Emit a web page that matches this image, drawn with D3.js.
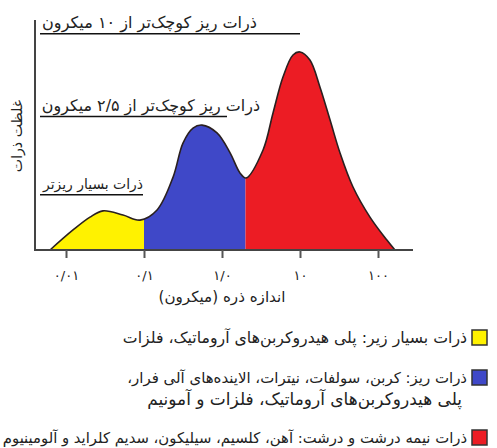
<!DOCTYPE html>
<html lang="fa">
<head>
<meta charset="utf-8">
<script src="https://cdn.jsdelivr.net/npm/d3@7/dist/d3.min.js"></script>
<style>
  html, body { margin: 0; padding: 0; background: #fff; }
  svg { display: block; }
  text { font-family: "DejaVu Sans", sans-serif; fill: #222; }
</style>
</head>
<body>
<svg id="chart" width="497" height="448"></svg>
<script>
// Particle size (µm) and relative mass concentration along the distribution curve
const sizes = [0.00624, 0.0123, 0.0203, 0.0298, 0.0538, 0.0889, 0.147, 0.236, 0.316, 0.425, 0.555,
               0.863, 1.27, 1.70, 2.03, 3.36, 4.51, 6.05, 8.13, 10, 13.4, 18.0, 24.3, 32.6, 47.8, 78.9, 130, 165];
const concentration = [0, 8.7, 14.3, 17.0, 15.2, 13.0, 17.4, 31.7, 46.5, 53.0, 54.3,
                       50.9, 42.2, 33.5, 31.3, 43.5, 59.6, 75.2, 84.8, 86.1, 82.6, 70.9, 56.5, 42.2, 27.4, 14.3, 4.3, 0];

// Size-class boundaries (µm) and their fill colours
const classBreaks = [0.1, 2];
const classColors = ["#fff200", "#3f48c8", "#ec1c24"];

// Axis ticks
const tickValues = [0.01, 0.1, 1, 10, 100];
const tickLabels = ["۰/۰۱", "۰/۱", "۱/۰", "۱۰", "۱۰۰"];

// Reference size thresholds drawn as labelled rules
const thresholdLabels = ["ذرات ریز کوچک‌تر از ۱۰ میکرون", "ذرات ریز کوچک‌تر از ۲/۵ میکرون", "ذرات بسیار ریزتر"];
const thresholdLevels = [94, 58, 24];

// Legend entries
const legendLines = [
  ["ذرات بسیار زیر: پلی هیدروکربن‌های آروماتیک، فلزات"],
  ["ذرات ریز: کربن، سولفات، نیترات، الاینده‌های آلی فرار،", "پلی هیدروکربن‌های آروماتیک، فلزات و آمونیم"],
  ["ذرات نیمه درشت و درشت: آهن، کلسیم، سیلیکون، سدیم کلراید و آلومینیوم"]
];

const xTitle = "اندازه ذره (میکرون)";
const yTitle = "غلظت ذرات";

const svg = d3.select("#chart");

// Scale a text's font size so that its drawn box spans the given width
function fitWidth(sel, base, width) {
  let size = base;
  sel.style("font-size", size + "px");
  for (let k = 0; k < 3; k++) {
    const w = sel.node().getBBox().width;
    if (!(w > 0)) break;
    size = size * width / w;
    sel.style("font-size", size + "px");
  }
  return size;
}

const x = d3.scaleLog().domain([0.01, 100]).range([66, 378]);
const y = d3.scaleLinear().domain([0, 100]).range([250, 20]);
const axisLeft = 35, axisRight = 413;

const pts = sizes.map((s, i) => ({ s, v: concentration[i] }));

// Clip regions per size class
const edges = [x.invert(axisLeft), ...classBreaks, x.invert(axisRight)];
const defs = svg.append("defs");
classColors.forEach((c, i) => {
  defs.append("clipPath").attr("id", "cls" + i)
    .append("rect")
    .attr("x", x(edges[i])).attr("y", 0)
    .attr("width", x(edges[i + 1]) - x(edges[i])).attr("height", y(0));
});

const area = d3.area()
  .x(d => x(d.s)).y0(y(0)).y1(d => y(d.v))
  .curve(d3.curveCatmullRom.alpha(0.5));
const line = d3.line()
  .x(d => x(d.s)).y(d => y(d.v))
  .curve(d3.curveCatmullRom.alpha(0.5));

classColors.forEach((c, i) => {
  svg.append("path").datum(pts)
    .attr("d", area).attr("fill", c)
    .attr("clip-path", `url(#cls${i})`);
});
svg.append("path").datum(pts)
  .attr("d", line).attr("fill", "none")
  .attr("stroke", "#2a2020").attr("stroke-width", 1.6);

// Threshold rules with labels
const ruleEnds = [300, 227, 143];
const labelRight = [257, 260, 143];
thresholdLabels.forEach((t, i) => {
  const yy = y(thresholdLevels[i]);
  svg.append("line")
    .attr("x1", 40).attr("x2", ruleEnds[i])
    .attr("y1", yy).attr("y2", yy)
    .attr("stroke", "#111").attr("stroke-width", 1.5);
  const lbl = svg.append("text")
    .attr("x", labelRight[i]).attr("y", yy - 6)
    .attr("direction", "rtl").attr("text-anchor", "start")
    .text(t);
  fitWidth(lbl, 14, labelRight[i] - 42);
});

// Axes
const axisG = svg.append("g");
axisG.append("line")
  .attr("x1", axisLeft).attr("x2", axisLeft).attr("y1", 20).attr("y2", y(0) + 1)
  .attr("stroke", "#444").attr("stroke-width", 2);
axisG.append("line")
  .attr("x1", axisLeft).attr("x2", axisRight).attr("y1", y(0)).attr("y2", y(0))
  .attr("stroke", "#444").attr("stroke-width", 2);

const xAxis = d3.axisBottom(x)
  .tickValues(tickValues)
  .tickSize(8)
  .tickFormat((d, i) => tickLabels[i]);
const gx = svg.append("g").attr("transform", `translate(0,${y(0)})`).call(xAxis);
gx.select(".domain").remove();
gx.selectAll(".tick line").attr("stroke", "#555").attr("stroke-width", 2);
gx.selectAll(".tick text").attr("y", 21).attr("dy", "0.71em")
  .style("font-size", "13px").style("font-family", "DejaVu Sans, sans-serif").attr("fill", "#222");

const xt = svg.append("text")
  .attr("x", 222).attr("y", 302)
  .attr("text-anchor", "middle").attr("direction", "rtl")
  .text(xTitle);
fitWidth(xt, 14, 127);

const yt = svg.append("text")
  .attr("transform", "translate(22,136) rotate(-90)")
  .attr("text-anchor", "middle").attr("direction", "rtl")
  .text(yTitle);
fitWidth(yt, 14, 73);

// Legend: each line spans its own width; the long last entry is kept inside the page
const legendTops = [330, 370, 430];
const legendSpans = [[344], [340, 315], [464]];
legendLines.forEach((lines, i) => {
  svg.append("rect")
    .attr("x", 472).attr("y", legendTops[i])
    .attr("width", 15).attr("height", 15)
    .attr("fill", classColors[i]).attr("stroke", "#333").attr("stroke-width", 1.5);
  lines.forEach((t, j) => {
    const right = j === 0 ? 467 : 462;
    const lt = svg.append("text")
      .attr("x", right).attr("y", legendTops[i] + 13 + j * 22)
      .attr("direction", "rtl").attr("text-anchor", "start")
      .text(t);
    fitWidth(lt, 14, legendSpans[i][j]);
  });
});
</script>
</body>
</html>
